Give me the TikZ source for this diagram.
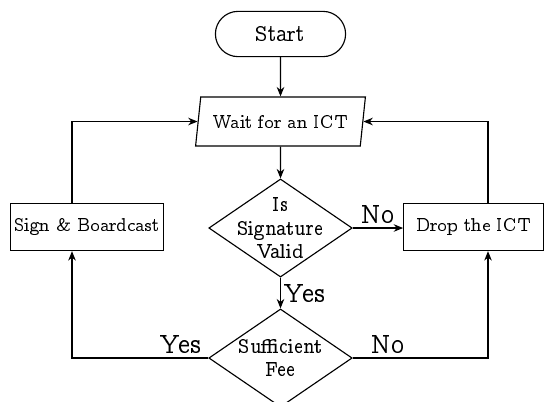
\documentclass[tikz,border=0pt]{standalone}
\usepackage[OT1]{fontenc}
\usepackage{ccfonts}
\usetikzlibrary{shapes.geometric,arrows.meta}
\tikzset{
  startstop/.style={draw, rectangle, rounded corners=12pt, minimum width=69pt, minimum height=24pt, font=\fontsize{13}{15}\selectfont},
  io/.style={draw, trapezium, trapezium left angle=76, trapezium right angle=104, trapezium stretches body, minimum width=90pt, minimum height=26pt, inner sep=2pt},
  decision/.style={draw, diamond, minimum width=76pt, minimum height=52pt, inner sep=0pt},
  process/.style={draw, rectangle, minimum width=74pt, minimum height=25pt, inner sep=2pt},
  answer/.style={font=\Large, inner sep=2pt}
}
\begin{document}
\begin{tikzpicture}[x=0.53pt, y=-0.53pt, semithick]
      \useasboundingbox (0,0) rectangle (544,401);
      \draw
        (280.5,34) node[startstop] (start){Start}
        (280.5,121.5) node[io] (wait){Wait for an ICT}
        (280.5,228) node[decision, label={[align=center, font=\fontsize{10.5}{12.5}\selectfont]center:Is\\Signature\\Valid}] (sig){}
        (280.5,358) node[decision, label={[align=center, font=\fontsize{10.5}{12.5}\selectfont]center:Sufficient\\Fee}] (fee){}
        (87,227) node[process] (sign){Sign \& Boardcast}
        (473.5,227) node[process] (drop){Drop the ICT};
      \coordinate (lbus) at (72,0);
      \coordinate (rbus) at (488,0);
      \begin{scope}[-{Stealth[length=5pt,width=4pt]}]
        \draw (start) to (wait);
        \draw (wait) to (sig);
        \draw (sig) to node[answer, right]{Yes} (fee);
        \draw (sig.east) to node[answer, above]{No} (sig.east -| drop.west);
        \draw (fee) -| node[answer, above, pos=0.1]{Yes} (sign.south -| lbus);
        \draw (fee) -| node[answer, above, pos=0.13]{No} (drop.south -| rbus);
        \draw (sign.north -| lbus) |- (wait);
        \draw (drop.north -| rbus) |- (wait);
      \end{scope}
    \end{tikzpicture}
\end{document}
